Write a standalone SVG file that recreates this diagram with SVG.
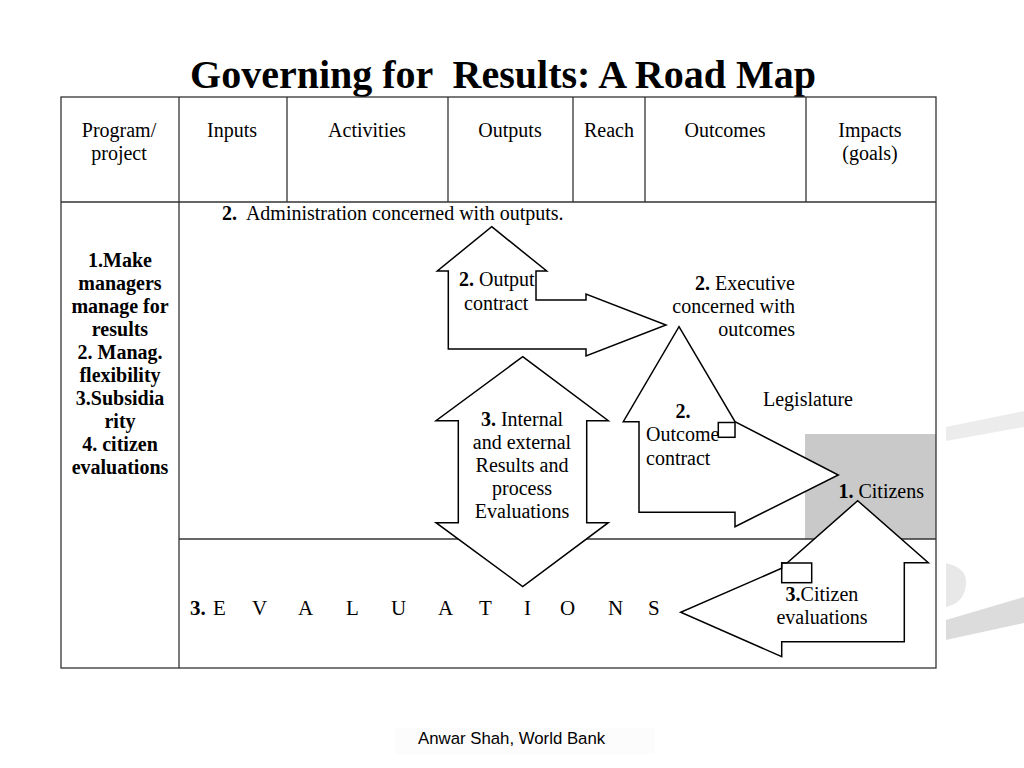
<svg xmlns="http://www.w3.org/2000/svg" width="1024" height="768" viewBox="0 0 1024 768">
<style>
  text { font-family: "Liberation Serif", "Times New Roman", serif; fill: #000; }
  .t { font-size: 20px; }
  .b { font-weight: bold; }
  .c { text-anchor: middle; }
  .r { text-anchor: end; }
  .grid { stroke: #333; stroke-width: 1.3; fill: none; }
  .arrow { fill: #fff; stroke: #000; stroke-width: 1.5; stroke-linejoin: miter; }
  .mark { fill: none; stroke: #000; stroke-width: 1.5; }
</style>
<rect width="1024" height="768" fill="#fff"/>
<!-- watermark decorations -->
<g id="watermark">
  <polygon points="946,427 1024,411 1024,427 946,441" fill="#ececec"/>
  <path d="M946,563 Q968,568 966,585 Q964,603 946,607 Z" fill="#e8e8e8"/>
  <polygon points="946,620 1024,597 1024,623 946,640" fill="#dcdcdc"/>
  <rect x="395" y="728" width="260" height="26" fill="#fcfcfc"/>
</g>
<text x="503" y="88" class="b c" style="font-size:40px" xml:space="preserve">Governing for  Results: A Road Map</text>
<!-- gray citizens area -->
<rect id="citizens-area" x="805" y="434" width="131" height="105" fill="#c9c9c9"/>
<!-- table -->
<g id="table" class="grid">
  <rect x="61" y="97" width="875" height="571"/>
  <line x1="61" y1="202" x2="936" y2="202"/>
  <line x1="179" y1="97" x2="179" y2="668"/>
  <line x1="287" y1="97" x2="287" y2="202"/>
  <line x1="448" y1="97" x2="448" y2="202"/>
  <line x1="573" y1="97" x2="573" y2="202"/>
  <line x1="645" y1="97" x2="645" y2="202"/>
  <line x1="806" y1="97" x2="806" y2="202"/>
  <line x1="179" y1="539" x2="936" y2="539"/>
</g>
<g id="headers" class="t">
  <text x="119" y="137" class="c">Program/</text>
  <text x="119" y="160" class="c">project</text>
  <text x="232" y="137" class="c">Inputs</text>
  <text x="367" y="137" class="c">Activities</text>
  <text x="510" y="137" class="c">Outputs</text>
  <text x="609" y="137" class="c">Reach</text>
  <text x="725" y="137" class="c">Outcomes</text>
  <text x="870" y="137" class="c">Impacts</text>
  <text x="870" y="160" class="c">(goals)</text>
</g>
<g id="principles" class="t b c">
  <text x="120" y="267">1.Make</text>
  <text x="120" y="290">managers</text>
  <text x="120" y="313">manage for</text>
  <text x="120" y="336">results</text>
  <text x="120" y="359">2. Manag.</text>
  <text x="120" y="382">flexibility</text>
  <text x="120" y="405">3.Subsidia</text>
  <text x="120" y="428">rity</text>
  <text x="120" y="451">4. citizen</text>
  <text x="120" y="474">evaluations</text>
</g>
<text id="admin" x="222" y="220" class="t" xml:space="preserve"><tspan class="b">2.</tspan>  Administration concerned with outputs.</text>
<g id="connectors">
  <g id="output-contract">
    <polygon class="arrow" points="491.7,226.7 546.7,271 536,271 536,300 586,300 586,294 666,325 586,356 586,349 448.3,349 448.3,271 437.3,271"/>
    <text x="459" y="286" class="t"><tspan class="b">2.</tspan> Output</text>
    <text x="464" y="310" class="t">contract</text>
  </g>
  <g id="internal-evaluations">
    <polygon class="arrow" points="522.7,356.7 608.3,420.7 586.7,420.7 586.7,522.7 608.3,522.7 522.7,586.5 436,522.7 458.3,522.7 458.3,420.7 436,420.7"/>
    <g class="t c">
      <text x="522" y="426"><tspan class="b">3.</tspan> Internal</text>
      <text x="522" y="449">and external</text>
      <text x="522" y="472">Results and</text>
      <text x="522" y="495">process</text>
      <text x="522" y="518">Evaluations</text>
    </g>
  </g>
  <g id="outcome-contract">
    <polygon class="arrow" points="679,326.7 735,421.7 838.3,475 735,526.7 735,512.3 639,512.3 639,421.7 623.3,421.7"/>
    <rect class="mark" x="718.3" y="422.5" width="16.7" height="14.8"/>
    <text x="683" y="418" class="t b c">2.</text>
    <text x="646" y="441" class="t">Outcome</text>
    <text x="646" y="465" class="t">contract</text>
  </g>
  <g id="citizen-evaluations">
    <polygon class="arrow" points="857.7,500.7 928.3,562.7 904.3,562.7 904.3,641.7 781.7,641.7 781.7,656.7 680.7,612.3 781.7,568.3 781.7,563 787.3,562.7"/>
    <rect class="mark" x="781.7" y="563" width="30" height="19.7"/>
    <text x="822" y="601" class="t c"><tspan class="b">3.</tspan>Citizen</text>
    <text x="822" y="624" class="t c">evaluations</text>
  </g>
</g>
<g id="executive" class="t r">
  <text x="795" y="290"><tspan class="b">2.</tspan> Executive</text>
  <text x="795" y="313">concerned with</text>
  <text x="795" y="336">outcomes</text>
</g>
<text id="legislature" x="808" y="406" class="t c">Legislature</text>
<text id="citizens" x="924" y="498" class="t r"><tspan class="b">1.</tspan> Citizens</text>
<g id="evaluations-row" style="font-size:21px">
  <text x="190" y="615" class="b">3.</text>
  <text y="615"><tspan x="213">E</tspan><tspan x="252">V</tspan><tspan x="298">A</tspan><tspan x="346">L</tspan><tspan x="391">U</tspan><tspan x="438">A</tspan><tspan x="479">T</tspan><tspan x="524">I</tspan><tspan x="560">O</tspan><tspan x="608">N</tspan><tspan x="648">S</tspan></text>
</g>
<text id="footer" x="418" y="744" style="font-family:'Liberation Sans', Arial, sans-serif; font-size:16.8px">Anwar Shah, World Bank</text>
</svg>
